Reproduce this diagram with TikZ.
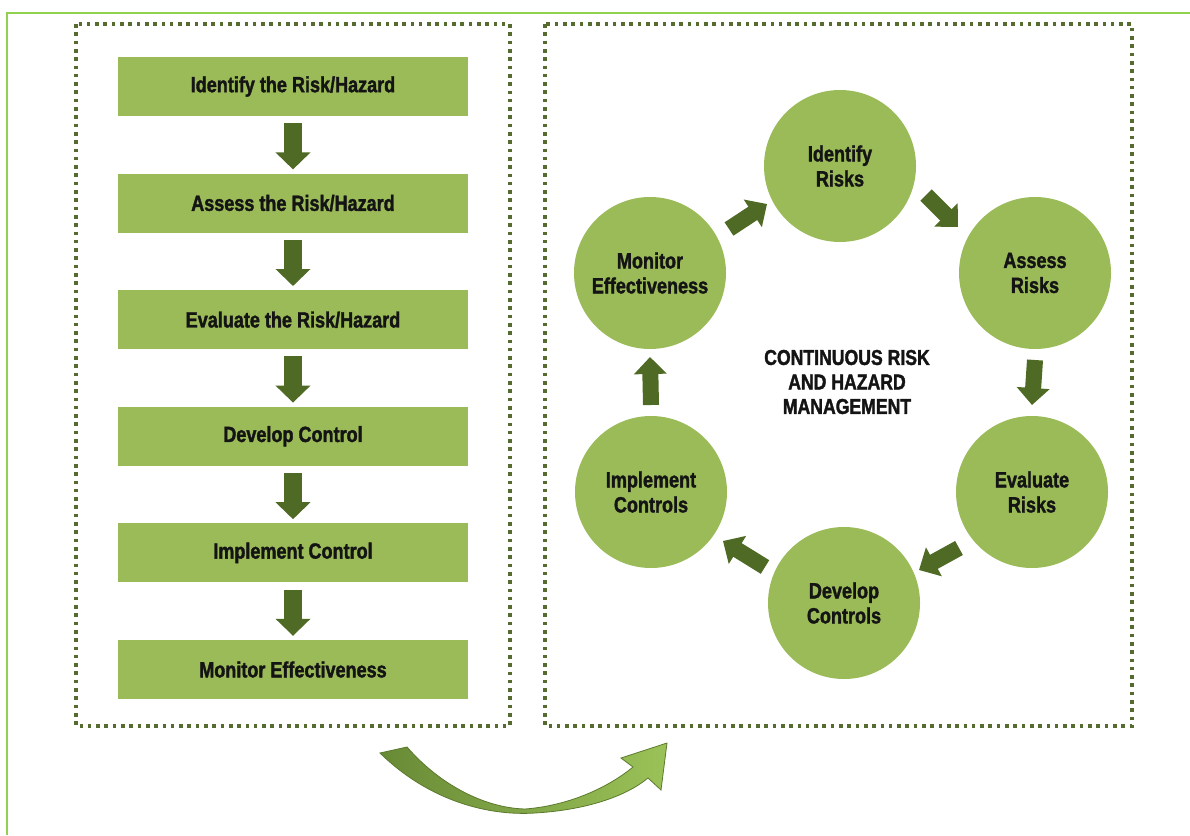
\documentclass[tikz,border=0pt]{standalone}
\usepackage{fontspec}
\setmainfont{Liberation Sans}[FakeStretch=0.82, BoldFeatures={FakeBold=1.6}]
\usetikzlibrary{arrows.meta,calc}
\definecolor{boxgreen}{HTML}{9BBB59}
\definecolor{arrowgreen}{HTML}{4F6A24}
\definecolor{dotcolor}{HTML}{556B30}
\definecolor{framegreen}{HTML}{92D050}
\definecolor{textcol}{HTML}{141414}
\definecolor{curvedark}{HTML}{688A36}
\definecolor{curvelight}{HTML}{9BC258}
\definecolor{curveedge}{HTML}{5C7A2E}
\begin{document}
\begin{tikzpicture}[x=1pt,y=-1pt,
  stepbox/.style={rectangle, fill=boxgreen, minimum width=350pt, minimum height=59pt, inner sep=0pt,
    font=\fontsize{22}{25}\selectfont\bfseries, text=textcol},
  cnode/.style={circle, fill=boxgreen, minimum size=152pt, inner sep=0pt, align=center,
    font=\fontsize{22}{25}\selectfont\bfseries, text=textcol},
  blk/.style={draw=arrowgreen, line width=18pt, -{Triangle[length=17pt,width=34pt]}},
  cblk/.style={draw=arrowgreen, line width=16pt, -{Triangle[length=17pt,width=32pt]}},
  dotbox/.style={draw=dotcolor, line width=3.6pt, dash pattern=on 3.6pt off 4.7pt},
  frameline/.style={draw=framegreen, line width=2.5pt}]
\useasboundingbox (0,0) rectangle (1190,835);
\fill[white] (0,0) rectangle (1190,835);
% outer frame
\draw[frameline] (7,835) -- (7,13) -- (1190,13);
% dotted panels
\draw[dotbox] (76,24) rectangle (510,726);
\draw[dotbox] (545,24) rectangle (1132,726);
% left column
\node[stepbox] (s1) at (293,86.5) {Identify the Risk/Hazard};
\node[stepbox] (s2) at (293,203.1) {Assess the Risk/Hazard};
\node[stepbox] (s3) at (293,319.7) {Evaluate the Risk/Hazard};
\node[stepbox] (s4) at (293,436.3) {Develop Control};
\node[stepbox] (s5) at (293,552.9) {Implement Control};
\node[stepbox] (s6) at (293,669.5) {Monitor Effectiveness};
\foreach \a/\b in {s1/s2,s2/s3,s3/s4,s4/s5,s5/s6}
  \draw[blk, shorten <=7pt, shorten >=4pt] (\a.south) -- (\b.north);
% cycle
\node[cnode] (id) at (840,166) {Identify\\Risks};
\node[cnode] (as) at (1035,273) {Assess\\Risks};
\node[cnode] (ev) at (1032,492) {Evaluate\\Risks};
\node[cnode] (dv) at (844,603) {Develop\\Controls};
\node[cnode] (im) at (651,492) {Implement\\Controls};
\node[cnode] (mo) at (650,273) {Monitor\\Effectiveness};
\node[align=center, font=\fontsize{21.5}{24.5}\selectfont\bfseries, text=textcol] (ctr) at (847,382)
  {CONTINUOUS RISK\\AND HAZARD\\MANAGEMENT};
\draw[cblk] ($(mo)+(79,-44)$) -- ($(id)+(-73,38)$);
\draw[cblk] ($(id)+(86,29)$) -- ($(as)+(-77,-46)$);
\draw[cblk] ($(as)+(0,87)$) -- ($(ev)+(0,-87)$);
\draw[cblk] ($(ev)+(-73,56)$) -- ($(dv)+(75,-33)$);
\draw[cblk] ($(dv)+(-79,-36)$) -- ($(im)+(72,49)$);
\draw[cblk] ($(im)+(0,-87)$) -- ($(mo)+(0,84)$);
% curved transition arrow
\draw[curveedge, line width=0.8pt, left color=curvedark, right color=curvelight]
  (380,753) .. controls (430,802) and (490,816) .. (535,813)
  .. controls (585,810) and (625,797) .. (648,778)
  -- (661,790) -- (667,743) -- (621,758) -- (633,767)
  .. controls (605,790) and (565,806) .. (525,809)
  .. controls (485,808) and (440,785) .. (407,747) -- cycle;
\end{tikzpicture}
\end{document}
